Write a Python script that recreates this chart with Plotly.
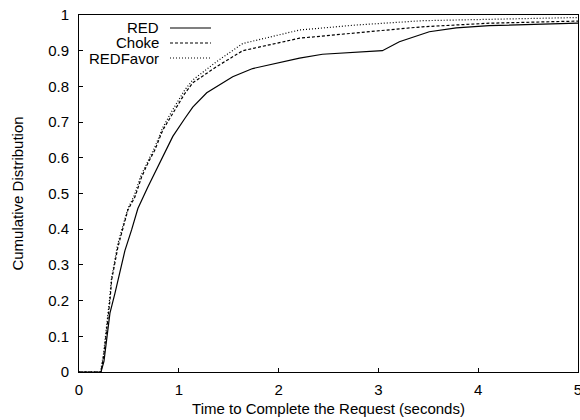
import plotly.graph_objects as go

red_x = [0, 0.22, 0.25, 0.28, 0.31, 0.36, 0.39, 0.46, 0.527, 0.59, 0.69, 0.777, 0.877, 0.94, 1.06, 1.14, 1.28, 1.44, 1.54, 1.74, 1.98, 2.21, 2.44, 3.04, 3.21, 3.51, 3.78, 4.11, 5.0]
red_y = [0, 0, 0.03, 0.10, 0.165, 0.22, 0.258, 0.34, 0.398, 0.458, 0.518, 0.566, 0.622, 0.66, 0.71, 0.742, 0.782, 0.81, 0.827, 0.85, 0.865, 0.879, 0.89, 0.90, 0.925, 0.953, 0.964, 0.97, 0.977]

choke_x = [0, 0.22, 0.25, 0.28, 0.31, 0.327, 0.39, 0.427, 0.49, 0.56, 0.627, 0.69, 0.76, 0.84, 0.94, 1.06, 1.14, 1.377, 1.64, 2.21, 2.78, 3.44, 4.11, 5.0]
choke_y = [0, 0, 0.05, 0.12, 0.20, 0.258, 0.35, 0.389, 0.454, 0.49, 0.546, 0.585, 0.622, 0.678, 0.725, 0.78, 0.81, 0.855, 0.90, 0.935, 0.95, 0.967, 0.977, 0.983]

fav_x = [0, 0.215, 0.245, 0.275, 0.305, 0.325, 0.385, 0.425, 0.49, 0.555, 0.62, 0.69, 0.76, 0.84, 0.94, 1.06, 1.14, 1.377, 1.64, 2.21, 2.78, 3.44, 5.0]
fav_y = [0, 0, 0.05, 0.12, 0.20, 0.26, 0.355, 0.395, 0.458, 0.495, 0.55, 0.59, 0.63, 0.685, 0.735, 0.79, 0.818, 0.869, 0.92, 0.958, 0.972, 0.984, 0.993]

series_names = ["RED", "Choke", "REDFavor"]
dashes = ["solid", "3px,2px", "1px,2px"]

x_ticks = [0, 1, 2, 3, 4, 5]
y_ticks = [0, 0.1, 0.2, 0.3, 0.4, 0.5, 0.6, 0.7, 0.8, 0.9, 1]
y_tick_labels = ["0", "0.1", "0.2", "0.3", "0.4", "0.5", "0.6", "0.7", "0.8", "0.9", "1"]

FONT = "Liberation Sans, Arial, Helvetica, sans-serif"

fig = go.Figure()
for name, xs, ys, d in zip(series_names, [red_x, choke_x, fav_x], [red_y, choke_y, fav_y], dashes):
    fig.add_trace(go.Scatter(x=xs, y=ys, mode="lines", name=name,
                             line=dict(color="black", width=1.2, dash=d), showlegend=False))

W, H = 580, 420
ml, mr, mt, mb = 79, 2, 15, 48
pw, ph = W - ml - mr, H - mt - mb
leg_y = [28, 43, 58]  # pixel rows of gnuplot-style key entries
for name, d, py in zip(series_names, dashes, leg_y):
    yp = 1 - (py - mt) / ph
    fig.add_annotation(x=(161 - ml) / pw, y=yp, xref="paper", yref="paper", text=name,
                       showarrow=False, xanchor="right", yanchor="middle",
                       font=dict(family=FONT, size=15, color="black"))
    fig.add_shape(type="line", xref="paper", yref="paper",
                  x0=(170 - ml) / pw, x1=(211 - ml) / pw, y0=yp, y1=yp,
                  line=dict(color="black", width=1.2, dash=d))

fig.update_layout(
    width=W, height=H,
    margin=dict(l=ml, r=mr, t=mt, b=mb, autoexpand=False),
    paper_bgcolor="white", plot_bgcolor="white",
    font=dict(family=FONT, size=15, color="black"),
    xaxis=dict(range=[0, 5], tickvals=x_ticks, ticks="inside", ticklen=4,
               tickcolor="black", showgrid=False, zeroline=False, automargin=False,
               showline=True, linecolor="black", linewidth=1, mirror=True,
               tickfont=dict(size=15), ticklabelstandoff=4, ticklabeloverflow="allow",
               title=dict(text="Time to Complete the Request (seconds)",
                          font=dict(size=15), standoff=6)),
    yaxis=dict(range=[0, 1], tickvals=y_ticks, ticktext=y_tick_labels,
               ticks="inside", ticklen=4, tickcolor="black", automargin=False,
               showgrid=False, zeroline=False,
               showline=True, linecolor="black", linewidth=1, mirror=True,
               tickfont=dict(size=15), ticklabelstandoff=6, ticklabeloverflow="allow",
               title=dict(text="Cumulative Distribution", font=dict(size=15), standoff=20)),
)

fig.write_html("out.html")
